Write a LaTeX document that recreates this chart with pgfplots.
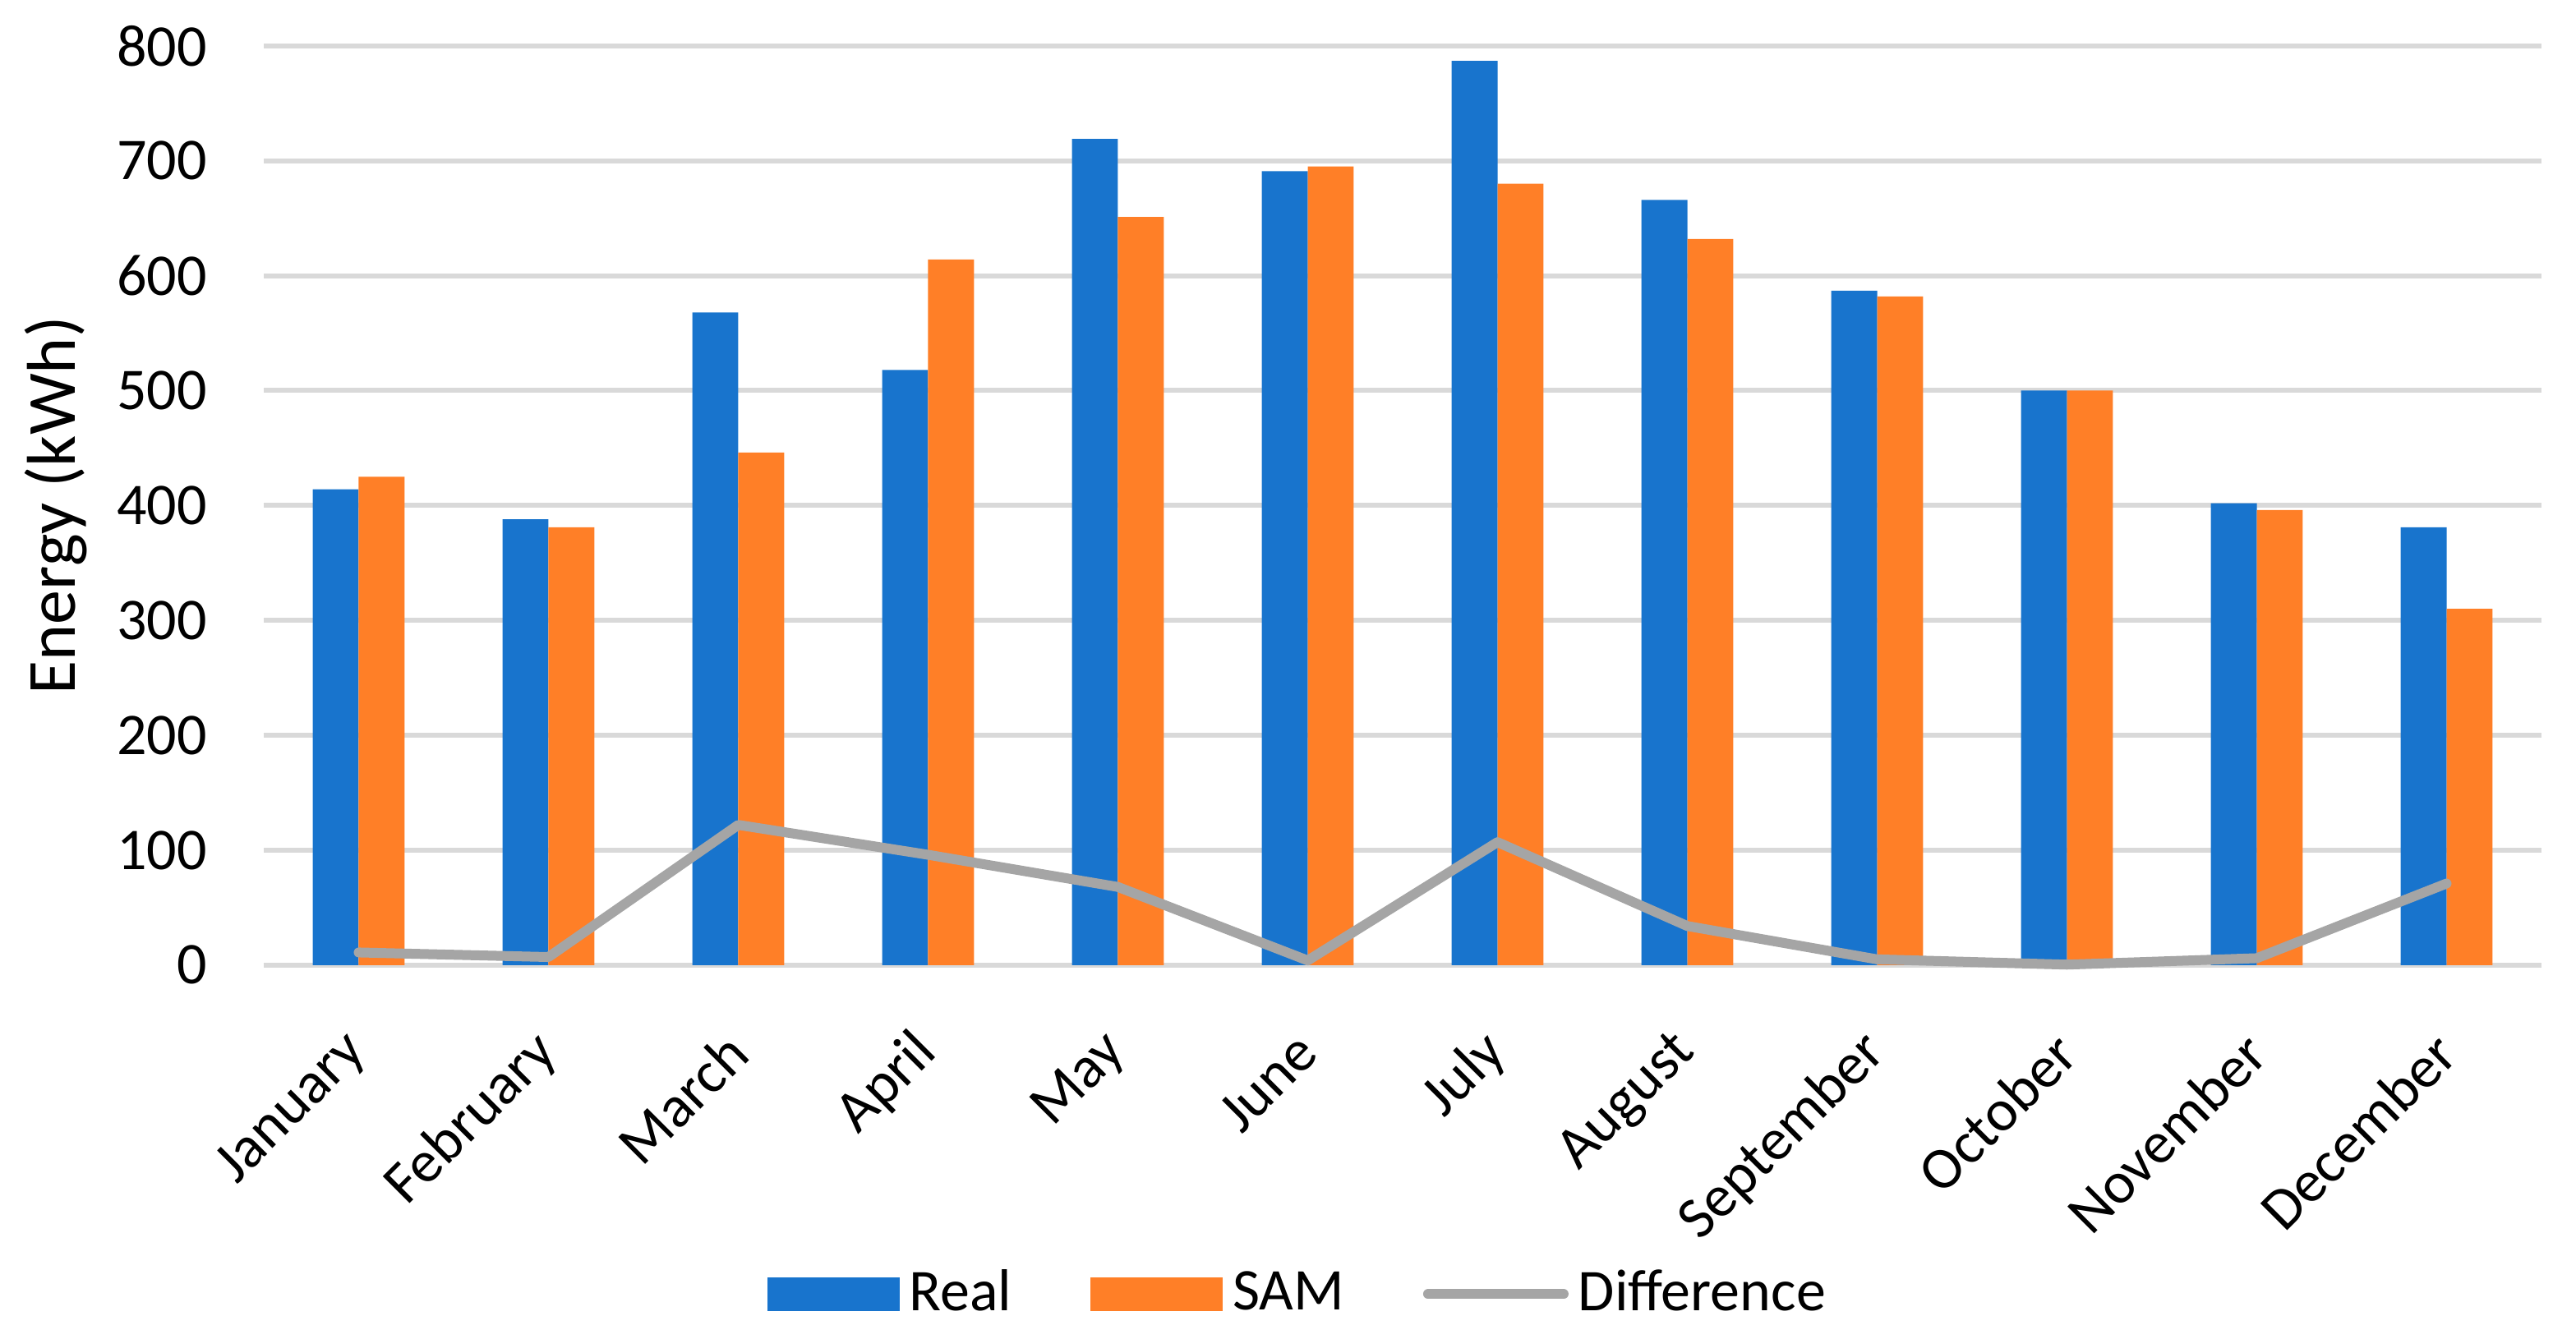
\documentclass[border=0pt]{standalone}
\usepackage{fontspec}
\setmainfont{Carlito}
\usepackage{pgfplots}
\usepackage{pgfplotstable}
\pgfplotsset{compat=1.18}

\definecolor{realblue}{HTML}{1874CD}
\definecolor{samorange}{HTML}{FF7F27}
\definecolor{diffgray}{HTML}{A5A5A5}
\definecolor{gridgray}{HTML}{D9D9D9}

% monthly energy, kWh
\pgfplotstableread{
m  real sam  diff
0  414  425  11
1  388  381  7
2  568  446  122
3  518  614  96
4  719  651  68
5  691  695  4
6  787  680  107
7  666  632  34
8  587  582  5
9  500  500  0.4
10 402  396  6
11 381  310  71
}\energy

\begin{document}
\begin{tikzpicture}
  \useasboundingbox (-53.5pt,-75.8pt) rectangle (469pt,195.8pt);
  \begin{axis}[
      scale only axis,
      width=462pt, height=186.5pt,
      xmin=-0.5, xmax=11.5,
      ymin=0, ymax=800,
      ytick={0,100,...,800},
      xtick={0,...,11},
      xticklabels={January,February,March,April,May,June,July,August,September,October,November,December},
      axis line style={draw=none},
      major tick length=0pt,
      ymajorgrids,
      grid style={gridgray, line width=1pt},
      clip=false,
      /pgf/number format/assume math mode=true,
      tick label style={font=\fontsize{12}{14}\selectfont},
      yticklabel style={xshift=-8pt},
      xticklabel style={inner sep=0pt, xshift=0pt, yshift=-15.8pt, rotate=45, anchor=east},
      ylabel={Energy (kWh)},
      every axis y label/.style={at={(axis description cs:-0.0913,0.5)}, rotate=90, anchor=center, font=\fontsize{14}{16}\selectfont},
      legend style={at={(0.4556,-0.358)}, anchor=center, draw=none, fill=none,
        font=\fontsize{12}{14}\selectfont,
        /tikz/every even column/.append style={column sep=14pt}},
      legend columns=-1,
    ]
    \addplot[ybar, bar width=0.242, bar shift=-0.121, fill=realblue, draw=none,
      legend image code/.code={\fill[realblue] (0pt,-3.35pt) rectangle (26.8pt,3.35pt);}]
      table[x=m, y=real] {\energy};
    \addlegendentry{Real}
    \addplot[ybar, bar width=0.242, bar shift=0.121, fill=samorange, draw=none,
      legend image code/.code={\fill[samorange] (0pt,-3.35pt) rectangle (26.8pt,3.35pt);}]
      table[x=m, y=sam] {\energy};
    \addlegendentry{SAM}
    \addplot[diffgray, line width=2pt, line cap=round, line join=round, mark=none,
      legend image code/.code={\draw[diffgray, line width=2pt, line cap=round] (0pt,0pt) -- (27.5pt,0pt);}]
      table[x=m, y=diff] {\energy};
    \addlegendentry{Difference}
  \end{axis}
\end{tikzpicture}
\end{document}
